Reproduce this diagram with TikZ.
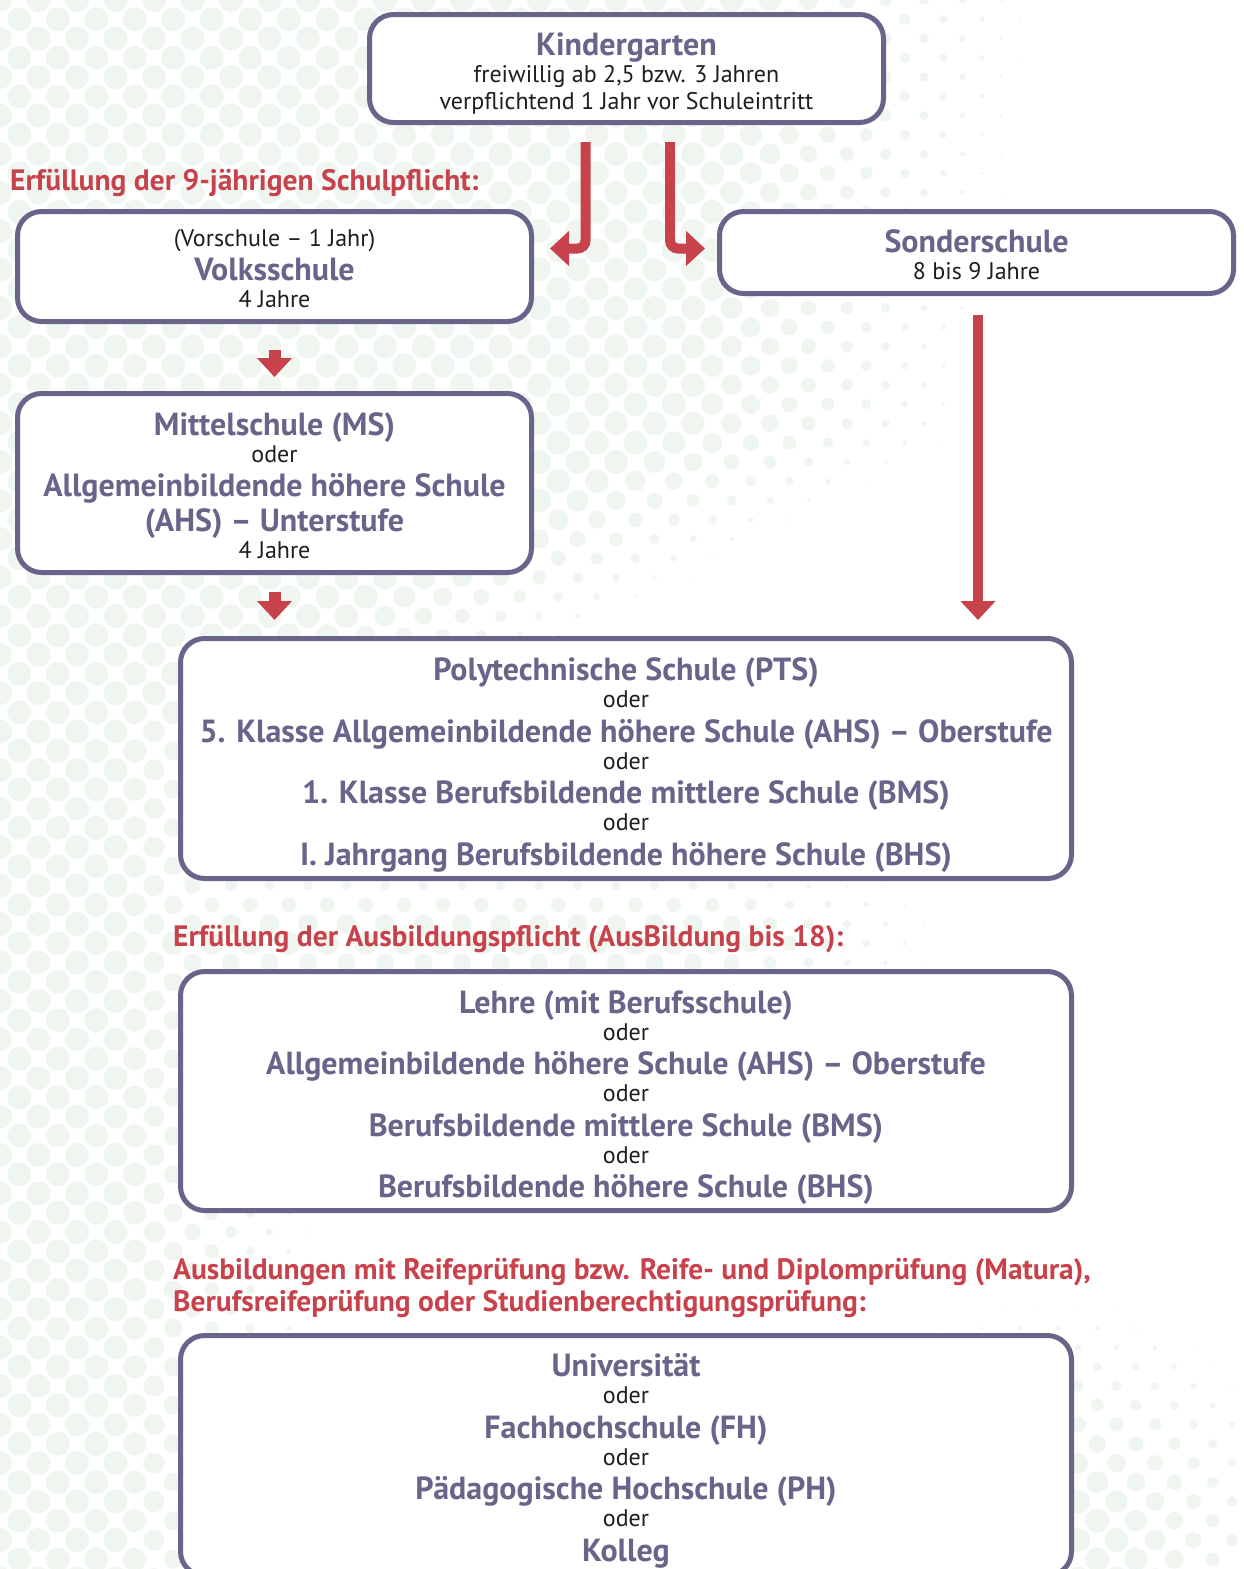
\documentclass[tikz,border=0pt]{standalone}
\usepackage{fontspec}
\setmainfont{PT Sans}
\usetikzlibrary{arrows.meta,calc}

\definecolor{lila}{RGB}{106,99,138}
\definecolor{rot}{RGB}{200,66,76}
\definecolor{punkt}{RGB}{239,246,240}
\definecolor{schrift}{RGB}{30,30,30}
\newcommand{\titel}[1]{{\fontsize{32}{27}\selectfont\bfseries\color{lila}#1}}
\newcommand{\oben}[1]{\rule{0pt}{#1}}

\begin{document}
\setlength{\lineskiplimit}{-50pt}
\begin{tikzpicture}[x=1pt, y=-1pt,
    box/.style={draw=lila, line width=5pt, rounded corners=24pt, fill=white,
      align=center, text=schrift, inner sep=0pt,
      font=\fontsize{24}{27}\selectfont},
    heading/.style={anchor=base west, text=rot, inner sep=0pt, align=left,
      font=\fontsize{29.5}{32}\selectfont\bfseries},
    pfeil/.style={draw=rot, line width=10pt, -{Triangle[width=34pt,length=19pt]}}]
  \useasboundingbox (0,0) rectangle (1243,1569);

  % Hintergrund
  \fill[white] (0,0) rectangle (1243,1569);
  \begin{scope}
    \clip (0,0) rectangle (1243,1569);
    \foreach \j in {0,...,82} {
      \foreach \i in {0,...,32} {
        \pgfmathsetmacro\punktx{\i*38.5+mod(\j,2)*19.25}
        \pgfmathsetmacro\punkty{\j*19.25}
        \pgfmathsetmacro\gtop{(1050-0.15*\punkty-1.7*max(0,\punkty-430)-\punktx)/300}
        \pgfmathsetmacro\gleft{(330-\punktx)/200}
        \pgfmathsetmacro\gmid{max(0,1-abs(\punkty-940)/90)*min(1,(950-\punktx)/250)}
        \pgfmathsetmacro\gbr{(280-veclen(\punktx-1050,\punkty-1569))/200}
        \pgfmathsetmacro\punktr{12*min(1,max(\gtop,\gleft,\gmid,\gbr))}
        \ifdim\punktr pt>0.5pt
          \fill[punkt] (\punktx,\punkty) circle[radius=\punktr pt];
        \fi
      }
    }
  \end{scope}

  % Kindergarten
  \node[box, minimum width=514pt, minimum height=108pt] (kindergarten) at (626.5,68.5)
    {\oben{33pt}\titel{Kindergarten}\\ freiwillig ab 2,5 bzw. 3 Jahren\\
     verpflichtend 1 Jahr vor Schuleintritt};

  % Schulpflicht
  \node[heading] (schulpflicht) at (10,190.3) {Erfüllung der 9-jährigen Schulpflicht:};
  \node[box, minimum width=514pt, minimum height=110pt] (volksschule) at (274.5,266.5)
    {\oben{21pt}(Vorschule – 1 Jahr)\\[7.5pt] \titel{Volksschule}\\ 4 Jahre};
  \node[box, minimum width=514pt, minimum height=82pt] (sonderschule) at (976.5,252.5)
    {\oben{27pt}\titel{Sonderschule}\\ 8 bis 9 Jahre};
  \node[box, minimum width=514pt, minimum height=179pt] (mittelschule) at (274.5,483)
    {\oben{28pt}\titel{Mittelschule (MS)}\\ oder\\[7.5pt]
     \titel{Allgemeinbildende höhere Schule}\\[8pt]
     \titel{(AHS) – Unterstufe}\\ 4 Jahre};
  \node[box, minimum width=891pt, minimum height=240pt] (poly) at (626,758.5)
    {\oben{36pt}\titel{Polytechnische Schule (PTS)}\\ oder\\[7.5pt]
     \titel{5. Klasse Allgemeinbildende höhere Schule (AHS) – Oberstufe}\\ oder\\[7.5pt]
     \titel{1. Klasse Berufsbildende mittlere Schule (BMS)}\\ oder\\[7.5pt]
     \titel{I. Jahrgang Berufsbildende höhere Schule (BHS)}};

  % Ausbildungspflicht
  \node[heading] (ausbildungspflicht) at (173,946)
    {Erfüllung der Ausbildungspflicht (AusBildung bis 18):};
  \node[box, minimum width=891pt, minimum height=239pt] (oberstufe) at (626,1091)
    {\oben{36pt}\titel{Lehre (mit Berufsschule)}\\ oder\\[7.5pt]
     \titel{Allgemeinbildende höhere Schule (AHS) – Oberstufe}\\ oder\\[7.5pt]
     \titel{Berufsbildende mittlere Schule (BMS)}\\ oder\\[7.5pt]
     \titel{Berufsbildende höhere Schule (BHS)}};

  % Matura
  \node[heading, anchor=west] (matura) at (173,1288)
    {Ausbildungen mit Reifeprüfung bzw. Reife- und Diplomprüfung (Matura),\\
     Berufsreifeprüfung oder Studienberechtigungsprüfung:};
  \node[box, minimum width=891pt, minimum height=240pt] (hochschule) at (626,1455.5)
    {\oben{34pt}\titel{Universität}\\ oder\\[7.5pt]
     \titel{Fachhochschule (FH)}\\ oder\\[7.5pt]
     \titel{Pädagogische Hochschule (PH)}\\ oder\\[7.5pt]
     \titel{Kolleg}};

  % Pfeile
  \draw[pfeil, rounded corners=8pt] ([xshift=-41pt,yshift=-17pt]kindergarten.south)
    |- ([xshift=16pt,yshift=18pt]volksschule.east);
  \draw[pfeil, rounded corners=8pt] ([xshift=43.5pt,yshift=-17pt]kindergarten.south)
    |- ([xshift=-12pt,yshift=4pt]sonderschule.west);
  \draw[pfeil, line width=12pt] ([yshift=-26pt]volksschule.south)
    -- ([yshift=14pt]mittelschule.north);
  \draw[pfeil, line width=12pt] ([yshift=-17pt]mittelschule.south)
    -- ($(mittelschule.south |- poly.north)+(0,-16)$);
  \draw[pfeil] ([xshift=1.5pt,yshift=-19pt]sonderschule.south)
    -- ($(sonderschule.south |- poly.north)+(1.5,-16)$);
\end{tikzpicture}
\end{document}
